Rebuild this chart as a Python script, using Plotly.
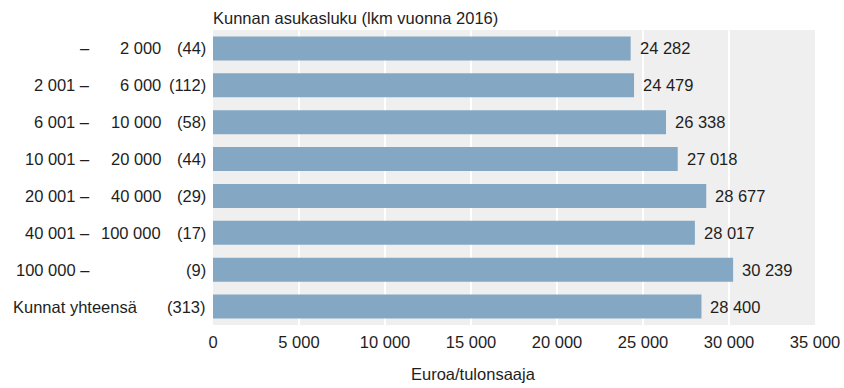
import plotly.graph_objects as go

# Municipality size classes (population), count of municipalities, and mean income
size_from = ["–", "2 001 –", "6 001 –", "10 001 –", "20 001 –", "40 001 –", "100 000 –", ""]
size_to = ["2 000", "6 000", "10 000", "20 000", "40 000", "100 000", "", ""]
counts = ["(44)", "(112)", "(58)", "(44)", "(29)", "(17)", "(9)", "(313)"]
total_label = "Kunnat yhteensä"
income = [24282, 24479, 26338, 27018, 28677, 28017, 30239, 28400]
x_ticks = [0, 5000, 10000, 15000, 20000, 25000, 30000, 35000]

categories = [f"r{i}" for i in range(len(income))]

W, H = 844, 388
L, R, T, B = 213, 29, 30, 63
PW = W - L - R
FONT = "Liberation Sans"
FS = 16.5
TXT = "#1e1e1e"


def px_to_paper(px):
    return (px - L) / PW


def fmt(v):
    return f"{v:,}".replace(",", " ")


fig = go.Figure(
    go.Bar(
        x=income,
        y=categories,
        orientation="h",
        marker=dict(color="#84a8c4", line=dict(width=0)),
        hoverinfo="skip",
    )
)

ann = []
# value labels at the bar ends
for c, v in zip(categories, income):
    ann.append(dict(x=v, y=c, xref="x", yref="y", text=fmt(v), showarrow=False,
                    xanchor="left", xshift=7, font=dict(size=FS, color=TXT)))

# three-column category labels
for i, c in enumerate(categories):
    if size_from[i]:
        ann.append(dict(x=px_to_paper(92), y=c, xref="paper", yref="y", text=size_from[i],
                        showarrow=False, xanchor="right", font=dict(size=FS, color=TXT)))
    if size_to[i]:
        ann.append(dict(x=px_to_paper(163), y=c, xref="paper", yref="y", text=size_to[i],
                        showarrow=False, xanchor="right", font=dict(size=FS, color=TXT)))
    ann.append(dict(x=px_to_paper(208), y=c, xref="paper", yref="y", text=counts[i],
                    showarrow=False, xanchor="right", font=dict(size=FS, color=TXT)))
ann.append(dict(x=px_to_paper(11), y=categories[-1], xref="paper", yref="y", text=total_label,
                showarrow=False, xanchor="left", font=dict(size=FS, color=TXT)))

# header above the plot and axis title below
ann.append(dict(x=px_to_paper(211), y=1, xref="paper", yref="paper",
                text="Kunnan asukasluku (lkm vuonna 2016)", showarrow=False,
                xanchor="left", yanchor="bottom", yshift=1, font=dict(size=FS, color=TXT)))
ann.append(dict(x=px_to_paper(473), y=0, xref="paper", yref="paper",
                text="Euroa/tulonsaaja", showarrow=False,
                xanchor="center", yanchor="middle", yshift=-(374 - (H - B)),
                font=dict(size=FS, color=TXT)))

fig.update_layout(
    width=W, height=H,
    margin=dict(l=L, r=R, t=T, b=B, autoexpand=False),
    paper_bgcolor="white",
    plot_bgcolor="#efefef",
    separators=", ",
    bargap=0.35,
    showlegend=False,
    font=dict(family=FONT, size=FS, color=TXT),
    annotations=ann,
    xaxis=dict(range=[0, 35000], tickvals=x_ticks, tickformat=",d",
               showgrid=True, gridcolor="white", gridwidth=2, zeroline=False,
               showline=False, ticks="", ticklabelstandoff=5,
               tickfont=dict(size=FS, color=TXT),
               automargin=False, fixedrange=True),
    yaxis=dict(categoryorder="array", categoryarray=categories, autorange="reversed",
               showticklabels=False, showgrid=False, zeroline=False, ticks="",
               automargin=False, fixedrange=True),
)

fig.write_html("out.html")
